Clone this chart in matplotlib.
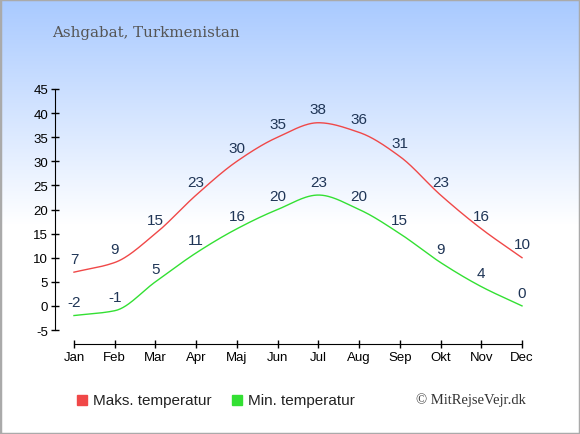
import numpy as np
import matplotlib
matplotlib.use('Agg')
from matplotlib import pyplot as plt
from matplotlib.patches import Rectangle

months = ['Jan', 'Feb', 'Mar', 'Apr', 'Maj', 'Jun', 'Jul', 'Aug', 'Sep', 'Okt', 'Nov', 'Dec']
max_temp = [7, 9, 15, 23, 30, 35, 38, 36, 31, 23, 16, 10]
min_temp = [-2, -1, 5, 11, 16, 20, 23, 20, 15, 9, 4, 0]
yticks = [-5, 0, 5, 10, 15, 20, 25, 30, 35, 40, 45]

title = 'Ashgabat, Turkmenistan'
legend_labels = ['Maks. temperatur', 'Min. temperatur']
credit = '\u00a9 MitRejseVejr.dk'

red = '#f04848'
green = '#33e033'
label_col = '#1f3556'

plt.rcParams['axes.unicode_minus'] = False


def monotone_curve(x, y, n=30):
	# Fritsch-Carlson monotone cubic, only for drawing the smooth line
	x = np.asarray(x, float)
	y = np.asarray(y, float)
	h = np.diff(x)
	d = np.diff(y) / h
	m = np.zeros_like(y)
	m[0] = d[0]
	m[-1] = d[-1]
	for i in range(1, len(y) - 1):
		if d[i - 1] * d[i] <= 0:
			m[i] = 0
		else:
			m[i] = 2 / (1 / d[i - 1] + 1 / d[i])
	xs, ys = [], []
	for i in range(len(x) - 1):
		t = np.linspace(0, 1, n)
		h00 = 2 * t**3 - 3 * t**2 + 1
		h10 = t**3 - 2 * t**2 + t
		h01 = -2 * t**3 + 3 * t**2
		h11 = t**3 - t**2
		xs.append(x[i] + t * h[i])
		ys.append(h00 * y[i] + h10 * h[i] * m[i] + h01 * y[i + 1] + h11 * h[i] * m[i + 1])
	return np.concatenate(xs), np.concatenate(ys)


fig = plt.figure(figsize=(5.8, 4.35), dpi=100)

# background gradient
bg = fig.add_axes([0, 0, 1, 1], zorder=-10)
rows = 435
frac = np.clip(np.arange(rows) / 225.0, 0, 1)
top = np.array([0.66, 0.79, 1.0])
colors = top[None, :] * (1 - frac[:, None]) + np.ones(3)[None, :] * frac[:, None]
bg.imshow(colors[:, None, :], aspect='auto', extent=[0, 1, 0, 1], origin='upper')
bg.add_patch(Rectangle((0, 0), 1, 1, transform=bg.transAxes, fill=False,
	edgecolor='#aaaaaa', linewidth=2.5))
bg.set_xlim(0, 1)
bg.set_ylim(0, 1)
bg.axis('off')

ax = fig.add_axes([55 / 580, 104 / 435, 475 / 580, 241 / 435])
ax.patch.set_alpha(0)
x = np.arange(len(months))
ax.set_xlim(-19 / 40.8, 11 + 8 / 40.8)
ax.set_ylim(-5, 45)

for vals, col in [(max_temp, red), (min_temp, green)]:
	cx, cy = monotone_curve(x, vals)
	ax.plot(cx, cy, color=col, linewidth=1.0)
	for xi, v in zip(x, vals):
		ax.annotate(str(v), (xi, v), xytext=(0, 4.5), textcoords='offset points',
			ha='center', va='bottom', fontsize=11, color=label_col,
			family='Liberation Sans')

for s in ['top', 'right']:
	ax.spines[s].set_visible(False)
ax.spines['left'].set_bounds(-5, 45)
ax.spines['bottom'].set_bounds(0, 11)
ax.spines['bottom'].set_position(('outward', 10))
ax.set_yticks(yticks)
ax.set_xticks(x)
ax.set_xticklabels(months)
ax.tick_params(direction='inout', length=6, width=1, labelsize=9.5, pad=2)
for lab in ax.get_xticklabels() + ax.get_yticklabels():
	lab.set_family('Liberation Sans')

fig.text(52 / 580, 1 - 33 / 435, title, family='DejaVu Serif', fontsize=10.8,
	color='#555555', va='center', ha='left')

# legend
for lx, col, txt in [(77, red, legend_labels[0]), (232, green, legend_labels[1])]:
	fig.patches.append(Rectangle((lx / 580, 1 - 406 / 435), 10 / 580, 10 / 435,
		transform=fig.transFigure, color=col))
	fig.text((lx + 16) / 580, 1 - 401 / 435, txt, family='Liberation Sans',
		fontsize=11, color='#222222', va='center', ha='left')
fig.text(526 / 580, 1 - 400 / 435, credit, family='Liberation Serif', fontsize=10.5,
	color='#333333', va='center', ha='right')

fig.savefig('out.png', dpi=100)
